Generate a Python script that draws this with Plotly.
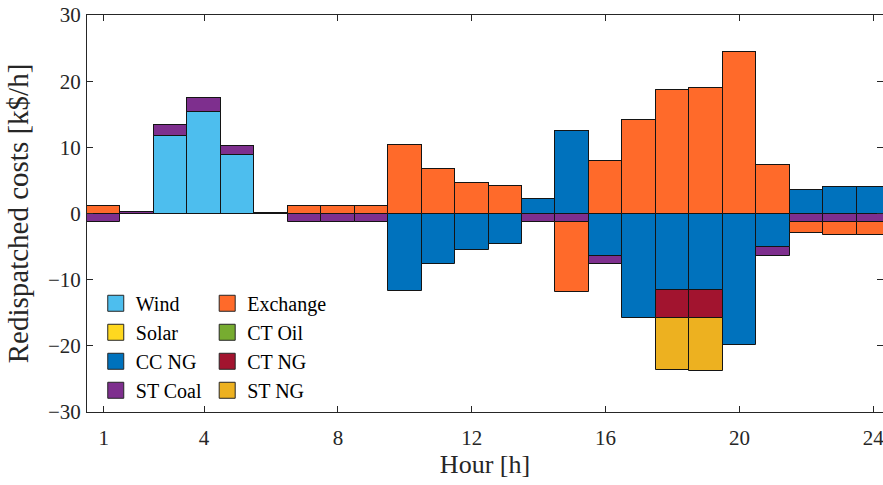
import plotly.graph_objects as go

hours = list(range(1, 25))

wind = [0, 0, 11.7, 15.4, 8.8, 0, 0, 0, 0, 0, 0, 0, 0, 0, 0, 0, 0, 0, 0, 0, 0, 0, 0, 0]
solar = [0] * 24
cc_ng = [0, 0, 0, 0, 0, 0, 0, 0, 0, -11.75, -7.7, -5.5, -4.65, 2.15, 12.45, -6.4,
         -15.8, -11.6, -11.6, -19.8, -5.05, 3.6, 4.0, 4.0]
st_coal = [-1.35, 0.3, 1.75, 2.0, 1.4, 0.05, -1.35, -1.35, -1.35, 0, 0, 0, 0, -1.35, -1.35, -1.3,
           0, 0, 0, 0, -1.4, -1.3, -1.3, -1.3]
exchange = [1.1, -0.12, -0.12, -0.12, -0.12, 0, 1.1, 1.1, 1.2, 10.4, 6.8, 4.6, 4.2, 0, -10.5, 8.0,
            14.2, 18.6, 18.9, 24.45, 7.3, -1.6, -1.9, -1.9]
ct_oil = [0] * 24
ct_ng = [0] * 17 + [-4.2, -4.2] + [0] * 5
st_ng = [0] * 17 + [-7.9, -8.05] + [0] * 5

x_ticks = [1, 4, 8, 12, 16, 20, 24]
y_ticks = [-30, -20, -10, 0, 10, 20, 30]

series = [
    ("Wind", wind, "#4DBEEE", "legend"),
    ("Solar", solar, "#FFD81F", "legend"),
    ("CC NG", cc_ng, "#0072BD", "legend"),
    ("ST Coal", st_coal, "#7E2F8E", "legend"),
    ("Exchange", exchange, "#FF6A2A", "legend2"),
    ("CT Oil", ct_oil, "#77AC30", "legend2"),
    ("CT NG", ct_ng, "#A2142F", "legend2"),
    ("ST NG", st_ng, "#EDB120", "legend2"),
]

FONT = "Liberation Serif, Times New Roman, serif"
fig = go.Figure()
for name, vals, color, lg in series:
    fig.add_trace(go.Bar(
        x=hours, y=vals, name=name, width=1.0,
        marker=dict(color=color, line=dict(color="#141414", width=1)),
        showlegend=False, legendgroup=name,
    ))
for name, vals, color, lg in series:
    fig.add_trace(go.Scatter(
        x=[None], y=[None], mode="markers", name=name, legendgroup=name, legend=lg,
        marker=dict(symbol="square", size=16, color=color, line=dict(color="#262626", width=1)),
        showlegend=True,
    ))

axis_common = dict(
    showline=True, linecolor="#262626", linewidth=1, mirror="ticks",
    ticks="inside", ticklen=6, tickcolor="#262626", showgrid=False, zeroline=False,
    tickfont=dict(family=FONT, size=21, color="#262626"),
)

fig.update_layout(
    width=883, height=485,
    margin=dict(l=87, r=0, t=15, b=73),
    paper_bgcolor="white", plot_bgcolor="white",
    barmode="relative", bargap=0,
    font=dict(family=FONT, color="#262626"),
    xaxis=dict(range=[0.5, 24.29], tickvals=x_ticks, ticklabelstandoff=7, ticklabeloverflow="allow",
               title=dict(text="Hour [h]", font=dict(family=FONT, size=26, color="#262626"), standoff=4),
               **axis_common),
    yaxis=dict(range=[-30, 30], tickvals=y_ticks, ticklabelstandoff=1,
               title=dict(text="Redispatched costs [k$/h]", font=dict(family=FONT, size=29, color="#262626"), standoff=10),
               **axis_common),
    legend=dict(x=0.011, y=0.323, xanchor="left", yanchor="top",
                bgcolor="rgba(0,0,0,0)", font=dict(family=FONT, size=20, color="#000"),
                itemsizing="trace", tracegroupgap=0),
    legend2=dict(x=0.151, y=0.323, xanchor="left", yanchor="top",
                 bgcolor="rgba(0,0,0,0)", font=dict(family=FONT, size=20, color="#000"),
                 itemsizing="trace", tracegroupgap=0),
)

fig.write_html("out.html")
